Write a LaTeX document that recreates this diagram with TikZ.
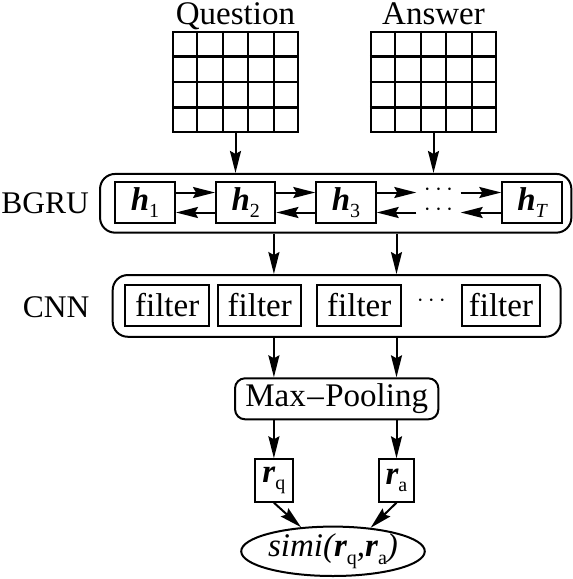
\documentclass[tikz,border=0pt]{standalone}
\usepackage{fontspec}
\setmainfont{Liberation Serif}
\usetikzlibrary{positioning,arrows.meta,shapes.geometric,calc}

\newcommand{\bvec}[2]{{\bfseries\itshape #1}\raisebox{-0.22em}{\fontsize{20}{20}\selectfont #2}}

\begin{document}
\begin{tikzpicture}[
  x=1pt, y=-1pt,
  font=\fontsize{33}{38}\selectfont,
  grid/.style={draw, line width=2.3pt, minimum width=125pt, minimum height=100pt, inner sep=0pt},
  layer/.style={draw, rounded corners=15pt, line width=2pt, inner sep=0pt},
  unit/.style={draw, line width=2pt, minimum height=41.5pt, inner sep=0pt},
  dots/.style={inner sep=0pt, minimum width=44pt, text height=0.5em, text depth=0pt},
  flow/.style={-{Stealth[length=22pt,width=11pt,inset=3pt]}, line width=2pt},
  tag/.style={anchor=east, inner sep=0pt, font=\fontsize{31.5}{36}\selectfont}
]
\useasboundingbox (0,0) rectangle (573,579);

% Inputs
\node[grid] (qgrid) at (235.5,82) {};
\node[grid] (agrid) at (433.5,82) {};
\foreach \g in {qgrid,agrid}{
  \foreach \i in {1,...,4}
    \draw[line width=2.3pt] ($(\g.north west)!\i/5!(\g.north east)$) -- ($(\g.south west)!\i/5!(\g.south east)$);
  \foreach \j in {1,2,3}
    \draw[line width=2.3pt] ($(\g.north west)!\j/4!(\g.south west)$) -- ($(\g.north east)!\j/4!(\g.south east)$);
}
\node[anchor=base, inner sep=0pt] (qlab) at ([yshift=6.5pt]qgrid.north) {Question};
\node[anchor=base, inner sep=0pt] (alab) at ([yshift=6.5pt]agrid.north) {Answer};

% BGRU layer
\node[tag] (blab) at (89,203) {BGRU};
\node[layer, minimum width=471.3pt, minimum height=58.7pt] (bgru) at (335.7,203.3) {};
\node[unit, minimum width=60pt] (h1) at (145,202.5) {\bvec{h}{1}};
\node[unit, minimum width=59.4pt] (h2) at (245.7,202.5) {\bvec{h}{2}};
\node[unit, minimum width=59.4pt] (h3) at (346,202.5) {\bvec{h}{3}};
\node[unit, minimum width=59.4pt] (hT) at (532,202.5) {\bvec{h}{\itshape T}};
\node[dots] (dotsU) at (438.5,192.5) {$\cdots$};
\node[dots] (dotsL) at (438.5,212.5) {$\cdots$};

% CNN layer
\node[tag] (clab) at (89.5,307.5) {CNN};
\node[layer, minimum width=448pt, minimum height=61.7pt] (cnn) at (336.7,305.9) {};
\node[unit, minimum width=84.3pt] (f1) at (167.2,305.5) {filter};
\node[unit, minimum width=83pt] (f2) at (259.8,305.5) {filter};
\node[unit, minimum width=84pt] (f3) at (359.3,305.5) {filter};
\node[unit, minimum width=77.7pt] (f4) at (500.9,305.5) {filter};
\node[dots, minimum width=0pt] (cdots) at (431.3,304) {$\cdots$};

% Pooling and outputs
\node[layer, rounded corners=10pt, minimum width=203.3pt, minimum height=41pt] (pool) at (336.7,398.8) {Max\kern1.5pt--\kern1.5pt Pooling};
\node[unit, minimum width=37.7pt, minimum height=42.4pt] (rq) at (273.9,480.5) {\bvec{r}{q}};
\node[unit, minimum width=35pt, minimum height=42.4pt] (ra) at (396.5,480.5) {\bvec{r}{a}};
\node[draw, ellipse, line width=2pt, minimum width=160.6pt, minimum height=49.4pt, inner sep=0pt] (simi) at (333,551.3)
  {{\itshape simi(}\bvec{r}{q}{\itshape ,}\bvec{r}{a}{\itshape )}};

% Connectors
\draw[flow] (qgrid.south) -- (qgrid.south |- bgru.north);
\draw[flow] (agrid.south) -- (agrid.south |- bgru.north);

\draw[flow] ([yshift=10pt]h1.east) -- ([yshift=10pt]h2.west);
\draw[flow] ([yshift=10pt]h2.east) -- ([yshift=10pt]h3.west);
\draw[flow] ([yshift=10pt]h3.east) -- (dotsU.west);
\draw[flow] (dotsU.east) -- ([yshift=10pt]hT.west);
\draw[flow] ([yshift=-10pt]hT.west) -- (dotsL.east);
\draw[flow] (dotsL.west) -- ([yshift=-10pt]h3.east);
\draw[flow] ([yshift=-10pt]h3.west) -- ([yshift=-10pt]h2.east);
\draw[flow] ([yshift=-10pt]h2.west) -- ([yshift=-10pt]h1.east);

\foreach \r in {rq,ra}{
  \draw[flow] (bgru.south -| \r) -- (cnn.north -| \r);
  \draw[flow] (cnn.south -| \r) -- (pool.north -| \r);
  \draw[flow] (pool.south -| \r) -- (\r.north);
}
\draw[flow] (rq.south) -- (simi.143);
\draw[flow] (ra.south) -- (simi.32);

\end{tikzpicture}
\end{document}
